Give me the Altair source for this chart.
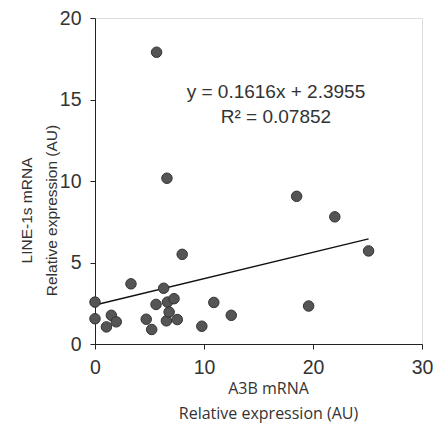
import altair as alt
import pandas as pd

x_vals = [0, 0, 1.05, 1.5, 1.95, 3.3, 4.7, 5.2, 5.6, 5.65, 6.3, 6.55, 6.65, 6.8,
          7.25, 7.55, 8.0, 6.6, 9.8, 10.9, 12.5, 18.5, 19.6, 22.0, 25.1]
y_vals = [2.57, 1.55, 1.05, 1.76, 1.36, 3.69, 1.52, 0.89, 2.43, 17.9, 3.42, 1.42,
          2.57, 1.96, 2.78, 1.5, 5.5, 10.17, 1.09, 2.55, 1.76, 9.06, 2.33, 7.8, 5.71]
slope = 0.1616
intercept = 2.3955
eq_lines = ["y = 0.1616x + 2.3955", "R² = 0.07852"]
x_ticks = [0, 10, 20, 30]
y_ticks = [0, 5, 10, 15, 20]

df = pd.DataFrame({"x": x_vals, "y": y_vals})
fit_x = [0, max(x_vals)]
fit = pd.DataFrame({"x": fit_x, "y": [slope * v + intercept for v in fit_x]})
eq = pd.DataFrame({"x": [16.6, 16.6], "y": [15.45, 13.9], "t": eq_lines})

xs = alt.Scale(domain=[0, 30], nice=False, zero=False)
ys = alt.Scale(domain=[0, 20], nice=False, zero=False)

x_axis = alt.Axis(values=x_ticks, grid=False, title=["A3B mRNA", "Relative expression (AU)"],
                  labelFontSize=19.5, labelFont="Liberation Sans", labelColor="#333",
                  labelPadding=9, tickSize=5, domainColor="#222", tickColor="#222",
                  labelFlush=False,
                  titleFont="Open Sans", titleFontSize=16, titleFontWeight="normal",
                  titleColor="#333", titleLineHeight=25, titlePadding=4, titleX=173)
y_axis = alt.Axis(values=y_ticks, grid=False, title=["LINE-1s mRNA", "Relative expression (AU)"],
                  labelFontSize=19.5, labelFont="Liberation Sans", labelColor="#333",
                  labelPadding=9, tickSize=5, domainColor="#222", tickColor="#222",
                  labelFlush=False,
                  titleFont="Liberation Sans", titleFontSize=15.5, titleFontWeight="normal",
                  titleColor="#333", titleLineHeight=25, titleX=-76, titleY=192,
                  titleAngle=270, titleBaseline="top", titleAlign="center")

pts = alt.Chart(df).mark_point(filled=True, size=110, color="#555", stroke="#333",
                               strokeWidth=1, opacity=1).encode(
    x=alt.X("x:Q", scale=xs, axis=x_axis),
    y=alt.Y("y:Q", scale=ys, axis=y_axis),
)
line = alt.Chart(fit).mark_line(color="#111", strokeWidth=1.4).encode(
    x=alt.X("x:Q", scale=xs), y=alt.Y("y:Q", scale=ys))
txt = alt.Chart(eq).mark_text(fontSize=19, font="Liberation Sans", color="#333",
                              align="center", baseline="middle").encode(
    x=alt.X("x:Q", scale=xs), y=alt.Y("y:Q", scale=ys), text="t:N")

chart = alt.layer(line, pts, txt).properties(
    width=327, height=326,
    autosize=alt.AutoSizeParams(type="none"),
    padding={"left": 87, "top": 10, "right": 11, "bottom": 80},
).configure_view(stroke="#555", strokeWidth=1).configure(background="white")

chart.save("out.html", embed_options={"renderer": "svg", "actions": False})
